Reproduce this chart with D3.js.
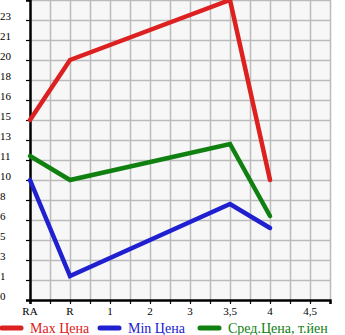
<!DOCTYPE html>
<html>
<head>
<meta charset="utf-8">
<script src="https://cdn.jsdelivr.net/npm/d3@7"></script>
<style>
  body { margin: 0; background: #fff; }
  text { font-family: "Liberation Serif", "DejaVu Serif", serif; }
</style>
</head>
<body>
<div id="chart"></div>
<script>
// grades on the x axis
var categories = ["RA", "R", "1", "2", "3", "3,5", "4", "4,5"];
// prices, null where there is no value
var maxPrice = [15, 20, null, null, null, 25, 10, null];
var minPrice = [10, 2, null, null, null, 8, 6, null];
var avgPrice = [12, 10, null, null, null, 13, 7, null];
var seriesNames = ["Max Цена", "Min Цена", "Сред.Цена, т.йен"];
var seriesColors = ["#dd2020", "#2020d0", "#108010"];

const width = 345, height = 335;
const plot = { left: 30, top: 0, right: 330, bottom: 300 };

const svg = d3.select("#chart")
  .append("svg")
  .attr("width", width)
  .attr("height", height);

const xScale = d3.scaleLinear()
  .domain([0, categories.length - 0.5])
  .range([plot.left, plot.right]);

const yScale = d3.scaleLinear()
  .domain([0, 25])
  .range([plot.bottom, plot.top]);

// background
svg.append("rect")
  .attr("x", plot.left)
  .attr("y", plot.top)
  .attr("width", plot.right - plot.left)
  .attr("height", plot.bottom - plot.top)
  .attr("fill", "#f7f7f7");

// grid
var yTicks = d3.range(0, 16).map(i => i * 25 / 15);
var xGrid = d3.range(1, 16).map(i => i * 0.5);

svg.append("g")
  .selectAll("line")
  .data(yTicks.slice(1))
  .enter()
  .append("line")
  .attr("x1", plot.left)
  .attr("x2", plot.right)
  .attr("y1", d => Math.round(yScale(d)) + 0.5)
  .attr("y2", d => Math.round(yScale(d)) + 0.5)
  .attr("stroke", "#bbbbbb")
  .attr("stroke-width", 1.5);

svg.append("g")
  .selectAll("line")
  .data(xGrid)
  .enter()
  .append("line")
  .attr("x1", d => Math.round(xScale(d)) + 0.5)
  .attr("x2", d => Math.round(xScale(d)) + 0.5)
  .attr("y1", plot.top)
  .attr("y2", plot.bottom)
  .attr("stroke", "#bbbbbb")
  .attr("stroke-width", 1.5);

// axes
const yAxis = d3.axisLeft(yScale)
  .tickValues(yTicks)
  .tickSize(4)
  .tickFormat(() => "");
const xAxis = d3.axisBottom(xScale)
  .tickValues(xGrid.concat([0]))
  .tickSize(4)
  .tickFormat(() => "");

var gy = svg.append("g")
  .attr("transform", `translate(${plot.left},0)`)
  .call(yAxis);
var gx = svg.append("g")
  .attr("transform", `translate(0,${plot.bottom})`)
  .call(xAxis);
[gx, gy].forEach(g => {
  g.select(".domain").attr("stroke", "#000").attr("stroke-width", 2.5);
  g.selectAll(".tick line").attr("stroke", "#000").attr("stroke-width", 1.2);
});

// y labels
svg.append("g")
  .selectAll("text")
  .data(yTicks.slice(0, 15))
  .enter()
  .append("text")
  .attr("x", 0)
  .attr("y", d => yScale(d) - 0.5)
  .attr("font-size", 11)
  .attr("fill", "#000")
  .text(d => Math.floor(d + 1e-9));

// x labels
svg.append("g")
  .selectAll("text")
  .data(categories)
  .enter()
  .append("text")
  .attr("x", (d, i) => xScale(i))
  .attr("y", 315)
  .attr("text-anchor", "middle")
  .attr("font-size", 11)
  .attr("fill", "#000")
  .text(d => d);

// lines
var allSeries = [maxPrice, minPrice, avgPrice];

allSeries.forEach((s, k) => {
  var pts = s.map((v, i) => ({ v: v, i: i })).filter(d => d.v !== null);
  svg.append("path")
    .datum(pts)
    .attr("fill", "none")
    .attr("stroke", seriesColors[k])
    .attr("stroke-width", 4.5)
    .attr("stroke-linejoin", "miter")
    .attr("stroke-linecap", "round")
    .attr("d", d3.line().x(d => xScale(d.i)).y(d => yScale(d.v)));
});

// legend
var legendX = [0, 98, 198];
var legend = svg.append("g")
  .selectAll("g")
  .data(seriesNames)
  .enter()
  .append("g")
  .attr("transform", (d, i) => `translate(${legendX[i]},328)`);
legend.append("line")
  .attr("x1", 2)
  .attr("x2", 21)
  .attr("stroke", (d, i) => seriesColors[i])
  .attr("stroke-width", 5)
  .attr("stroke-linecap", "round");
legend.append("text")
  .attr("x", 30)
  .attr("y", 5)
  .attr("font-size", 14)
  .attr("fill", (d, i) => seriesColors[i])
  .text(d => d);
</script>
</body>
</html>
